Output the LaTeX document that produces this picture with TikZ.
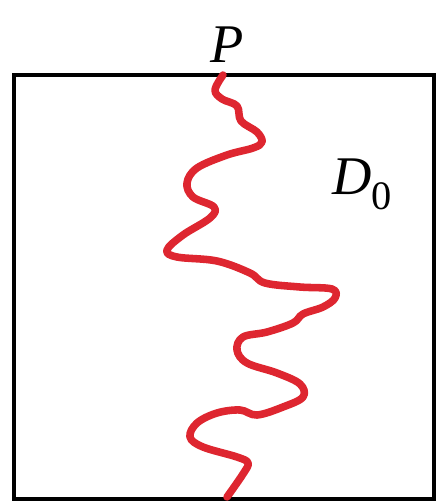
\documentclass[tikz,border=0pt]{standalone}
\usepackage{fontspec}
\setmainfont{Liberation Serif}
\definecolor{pathred}{RGB}{222,38,48}
\tikzset{
  regionbox/.style={draw=black, line width=2.6pt},
  walk/.style={draw=pathred, line width=4.3pt, line cap=round, line join=round},
  lbl/.style={font=\fontsize{31}{34}\selectfont, inner sep=0pt},
}
\begin{document}
\begin{tikzpicture}[x=0.02cm, y=-0.02cm]
\useasboundingbox (0,0) rectangle (441,501);
% domain D_0
\coordinate (nw) at (14,75);
\coordinate (se) at (434,499);
\draw[regionbox] (nw) rectangle (se);
% labels
\node[lbl] (ptop) at (227,45) {\textit{P}};
\node[lbl] (dlab) at (362,184) {\textit{D}\raisebox{-0.28em}{\fontsize{23}{23}\selectfont 0}};
% random curve from P down to the bottom side
\draw[walk] plot[smooth, tension=0.6] coordinates {
  (223,75) (215,90) (222,99) (237,106) (241,121) (257,132) (262,142)
  (253,148) (227,155) (197,168) (187,183) (193,197) (214,207) (210,218)
  (183,235) (167,250) (177,257) (217,261) (250,273) (265,283) (300,287)
  (332,289) (335,298) (323,307) (303,314) (293,323) (267,332) (243,337)
  (237,350) (247,363) (277,373) (300,384) (303,397) (283,407) (257,415)
  (240,410) (217,413) (197,423) (190,437) (203,447) (237,457) (248,463)
  (243,474) (227,497)};
\end{tikzpicture}
\end{document}
